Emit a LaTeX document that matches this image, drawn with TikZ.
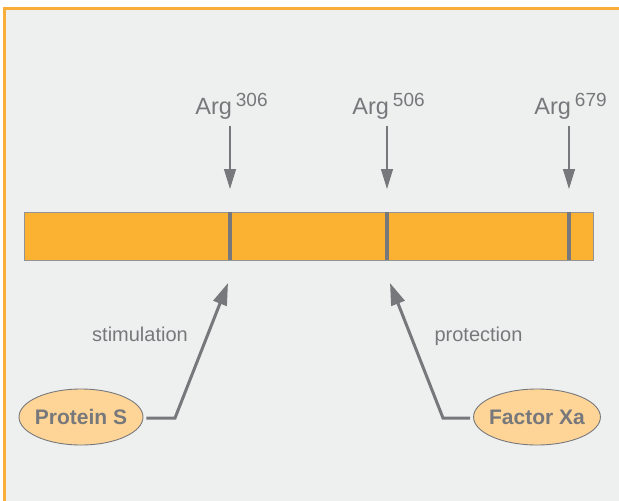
\documentclass[tikz,border=0pt]{standalone}
\usepackage{fontspec}
\setmainfont{Liberation Sans}
\usetikzlibrary{arrows.meta,shapes.geometric}
\definecolor{bargold}{HTML}{FBB233}
\definecolor{framegold}{HTML}{F9AE3A}
\definecolor{panelgray}{HTML}{EEF0EF}
\definecolor{inkgray}{HTML}{77787B}
\definecolor{palegold}{HTML}{FED597}

\begin{document}
\begin{tikzpicture}[x=1pt,y=-1pt,
  site/.style={anchor=base,inner sep=2pt,text=inkgray,font=\fontsize{23.5}{26}\selectfont},
  note/.style={anchor=base,inner sep=2pt,text=inkgray,font=\fontsize{20}{24}\selectfont},
  agent/.style={ellipse,draw=inkgray,fill=palegold,line width=0.9pt,minimum width=124pt,minimum height=56pt,inner xsep=-3pt,inner ysep=0pt,text=inkgray,font=\bfseries\fontsize{21}{24}\selectfont},
  cut/.style={-{Triangle[width=12pt,length=20pt]},draw=inkgray,line width=1.2pt},
  act/.style={-{Triangle[width=14pt,length=22pt]},draw=inkgray,line width=3pt}]
  \useasboundingbox (0,0) rectangle (619,501);
  \fill[white] (0,0) rectangle (619,501);
  \fill[panelgray] (4,8) rectangle (619,501);
  \draw[framegold,line width=3pt] (4.3,501) -- (4.3,8) -- (619,8);
  % the chain with its three cleavage sites
  \draw[fill=bargold,draw=inkgray!80,line width=1pt] (24.5,212) rectangle (593,260);
  \foreach \x/\n in {230/306,387/506,569/679} {
    \fill[inkgray] (\x-2.4,212) rectangle (\x+2.4,260);
    \node[site] (arg\n) at (\x+1.5,114.5) {Arg\kern4pt\raisebox{8pt}{\fontsize{19}{19}\selectfont\n}};
    \coordinate (cut\n) at (\x,189);
    \draw[cut,shorten <=4pt] (cut\n |- arg\n.south) -- (cut\n);
  }
  % cofactors
  \node[agent] (protS) at (81,417) {Protein S};
  \node[agent] (facXa) at (537,417) {Factor Xa};
  \coordinate (stimBend) at (175,418);
  \coordinate (stimTip) at (228,283);
  \coordinate (protBend) at (443,418);
  \coordinate (protTip) at (390,283);
  \draw[act,shorten <=3pt] (protS.east |- stimBend) -- (stimBend) -- (stimTip);
  \draw[act,shorten <=3pt] (facXa.west |- protBend) -- (protBend) -- (protTip);
  \node[note] (stim) at (140,341) {stimulation};
  \node[note] (prot) at (478.5,341) {protection};
\end{tikzpicture}
\end{document}
